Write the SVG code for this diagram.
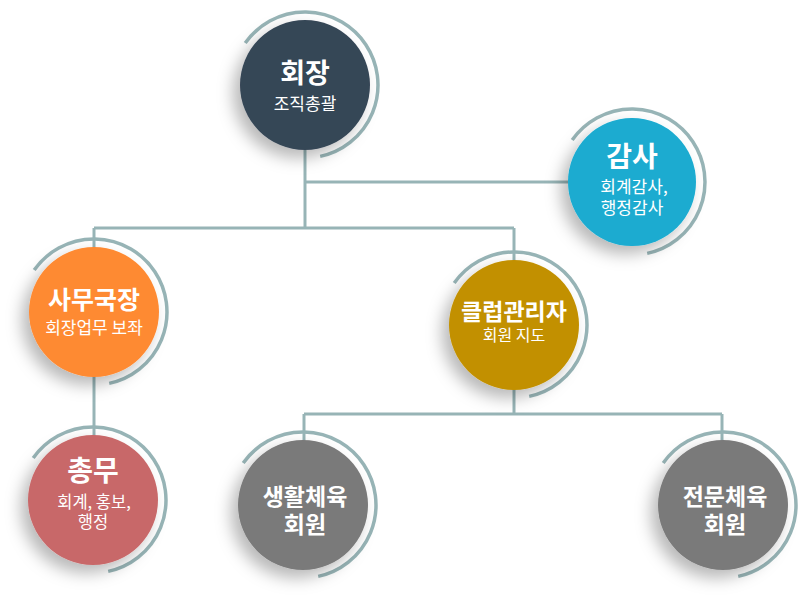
<svg xmlns="http://www.w3.org/2000/svg" xmlns:xlink="http://www.w3.org/1999/xlink" width="808" height="612" viewBox="0 0 808 612">
<defs>
  <filter id="sh" x="-50%" y="-50%" width="200%" height="200%">
    <feDropShadow dx="-7" dy="8" stdDeviation="8" flood-color="#000" flood-opacity="0.28"/>
  </filter>
  <path id="arc" d="M-59.8,-41.9 A73,73 0 1 1 15.2,71.4"/>
  <style>
    .arc{fill:none;stroke:#97B4B6;stroke-width:3.5}
    .con{fill:none;stroke:#97B4B6;stroke-width:3}
    .c{filter:url(#sh)}
    text{font-family:"Noto Sans CJK KR","Noto Sans",sans-serif;fill:#fff;text-anchor:middle}
    .t{font-weight:bold}
    .s{font-weight:normal}
  </style>
</defs>
<rect width="808" height="612" fill="#fff"/>
<g id="connectors" class="con">
  <path d="M305,150 V228"/>
  <path d="M305,182 H568"/>
  <path d="M94,228 H514"/>
  <path d="M94,228 V260"/>
  <path d="M514,228 V262"/>
  <path d="M94,370 V438"/>
  <path d="M514,388 V414"/>
  <path d="M304,414 H722"/>
  <path d="M304,414 V442"/>
  <path d="M722,414 V442"/>
</g>
<g id="n-president">
  <use xlink:href="#arc" x="305" y="85" class="arc"/>
  <circle cx="305" cy="85" r="65" fill="#364656" class="c"/>
  <text x="305" y="83" class="t" font-size="27">회장</text>
  <text x="305" y="110" class="s" font-size="17">조직총괄</text>
</g>
<g id="n-audit">
  <use xlink:href="#arc" x="632" y="182" class="arc"/>
  <circle cx="632" cy="182" r="64" fill="#1AABD0" class="c"/>
  <text x="632" y="167" class="t" font-size="28">감사</text>
  <text x="634" y="193" class="s" font-size="17">회계감사,</text>
  <text x="632" y="214" class="s" font-size="17">행정감사</text>
</g>
<g id="n-secretary">
  <use xlink:href="#arc" x="94" y="312" class="arc"/>
  <circle cx="94" cy="312" r="65" fill="#FE8A33" class="c"/>
  <text x="94" y="309" class="t" font-size="25">사무국장</text>
  <text x="94" y="334" class="s" font-size="17">회장업무 보좌</text>
</g>
<g id="n-club">
  <use xlink:href="#arc" x="514" y="325" class="arc"/>
  <circle cx="514" cy="325" r="65" fill="#C29000" class="c"/>
  <text x="514" y="320" class="t" font-size="23">클럽관리자</text>
  <text x="514" y="341" class="s" font-size="16">회원 지도</text>
</g>
<g id="n-general">
  <use xlink:href="#arc" x="93" y="500" class="arc"/>
  <circle cx="93" cy="500" r="65" fill="#C86869" class="c"/>
  <text x="93" y="481" class="t" font-size="28">총무</text>
  <text x="94" y="508" class="s" font-size="16.5">회계, 홍보,</text>
  <text x="93" y="528" class="s" font-size="16.5">행정</text>
</g>
<g id="n-life">
  <use xlink:href="#arc" x="303" y="505" class="arc"/>
  <circle cx="303" cy="505" r="65" fill="#7A7A7A" class="c"/>
  <text x="305" y="505" class="t" font-size="23">생활체육</text>
  <text x="305" y="533" class="t" font-size="23">회원</text>
</g>
<g id="n-pro">
  <use xlink:href="#arc" x="723" y="505" class="arc"/>
  <circle cx="723" cy="505" r="65" fill="#7A7A7A" class="c"/>
  <text x="725" y="505" class="t" font-size="23">전문체육</text>
  <text x="725" y="533" class="t" font-size="23">회원</text>
</g>
</svg>
